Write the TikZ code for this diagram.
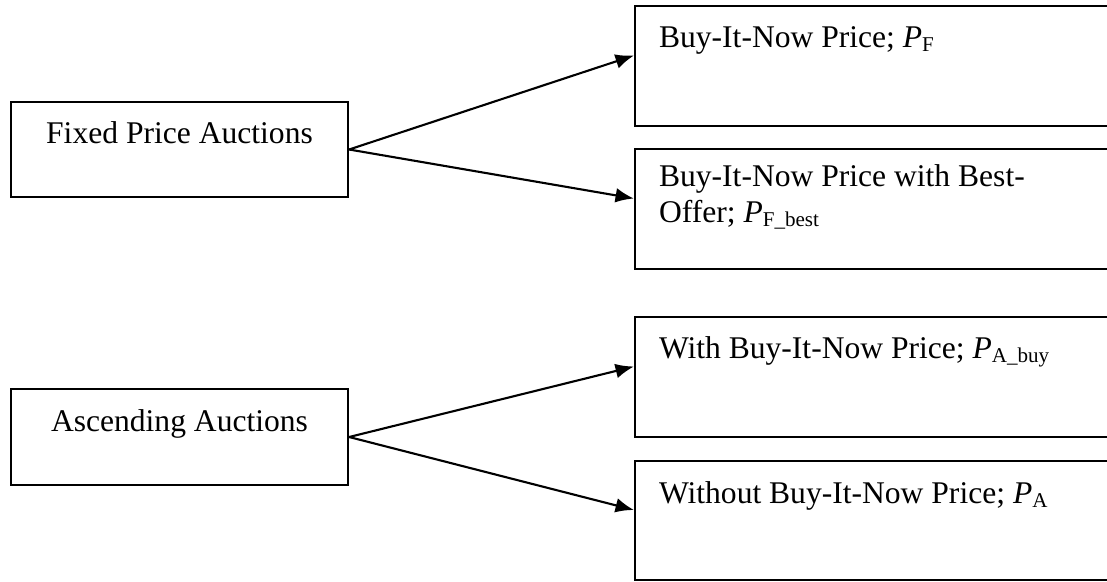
\documentclass[tikz,border=0pt]{standalone}
\usepackage{fontspec}
\setmainfont{Liberation Serif}
\usetikzlibrary{arrows.meta}

\begin{document}
\begin{tikzpicture}[>={Latex[length=7pt,width=5.6pt]}, x=0.38pt, y=-0.38pt, line width=0.8pt, font=\fontsize{12}{13.4}\selectfont]
\clip (0,0) rectangle (1107,581);
% Left boxes: auction types
\node[rectangle,draw,inner sep=0pt,minimum width=128.1pt,minimum height=36.1pt] (fixed) at (179.5,149.5) {};
\node[anchor=base,inner sep=0pt] (fixedtxt) at (179.5,143) {Fixed Price Auctions};
\node[rectangle,draw,inner sep=0pt,minimum width=128.1pt,minimum height=36.5pt] (asc) at (179.5,437) {};
\node[anchor=base,inner sep=0pt] (asctxt) at (179.5,431) {Ascending Auctions};

% Right boxes: price kinds (run past the right edge)
\node[rectangle,draw,inner sep=0pt,minimum width=214.7pt,minimum height=45.6pt] (pf) at (917.5,66) {};
\node[anchor=base west,inner sep=0pt] (pftxt) at (658,47) {Buy-It-Now Price; \textit{P}\textsubscript{F}};
\node[rectangle,draw,inner sep=0pt,minimum width=214.7pt,minimum height=45.6pt] (pfbest) at (917.5,209) {};
\node[anchor=base west,inner sep=0pt,align=left] (pfbesttxt) at (658,222) {Buy-It-Now Price with Best-\\Offer; \textit{P}\textsubscript{F\_best}};
\node[rectangle,draw,inner sep=0pt,minimum width=214.7pt,minimum height=45.6pt] (pabuy) at (917.5,377) {};
\node[anchor=base west,inner sep=0pt] (pabuytxt) at (658,358) {With Buy-It-Now Price; \textit{P}\textsubscript{A\_buy}};
\node[rectangle,draw,inner sep=0pt,minimum width=214.7pt,minimum height=45.2pt] (pa) at (917.5,520.5) {};
\node[anchor=base west,inner sep=0pt] (patxt) at (658,503) {Without Buy-It-Now Price; \textit{P}\textsubscript{A}};

% Arrows
\draw[->] (fixed.east) -- ([yshift=4pt]pf.west);
\draw[->] (fixed.east) -- ([yshift=4pt]pfbest.west);
\draw[->] (asc.east) -- ([yshift=4pt]pabuy.west);
\draw[->] (asc.east) -- ([yshift=4pt]pa.west);
\end{tikzpicture}
\end{document}
